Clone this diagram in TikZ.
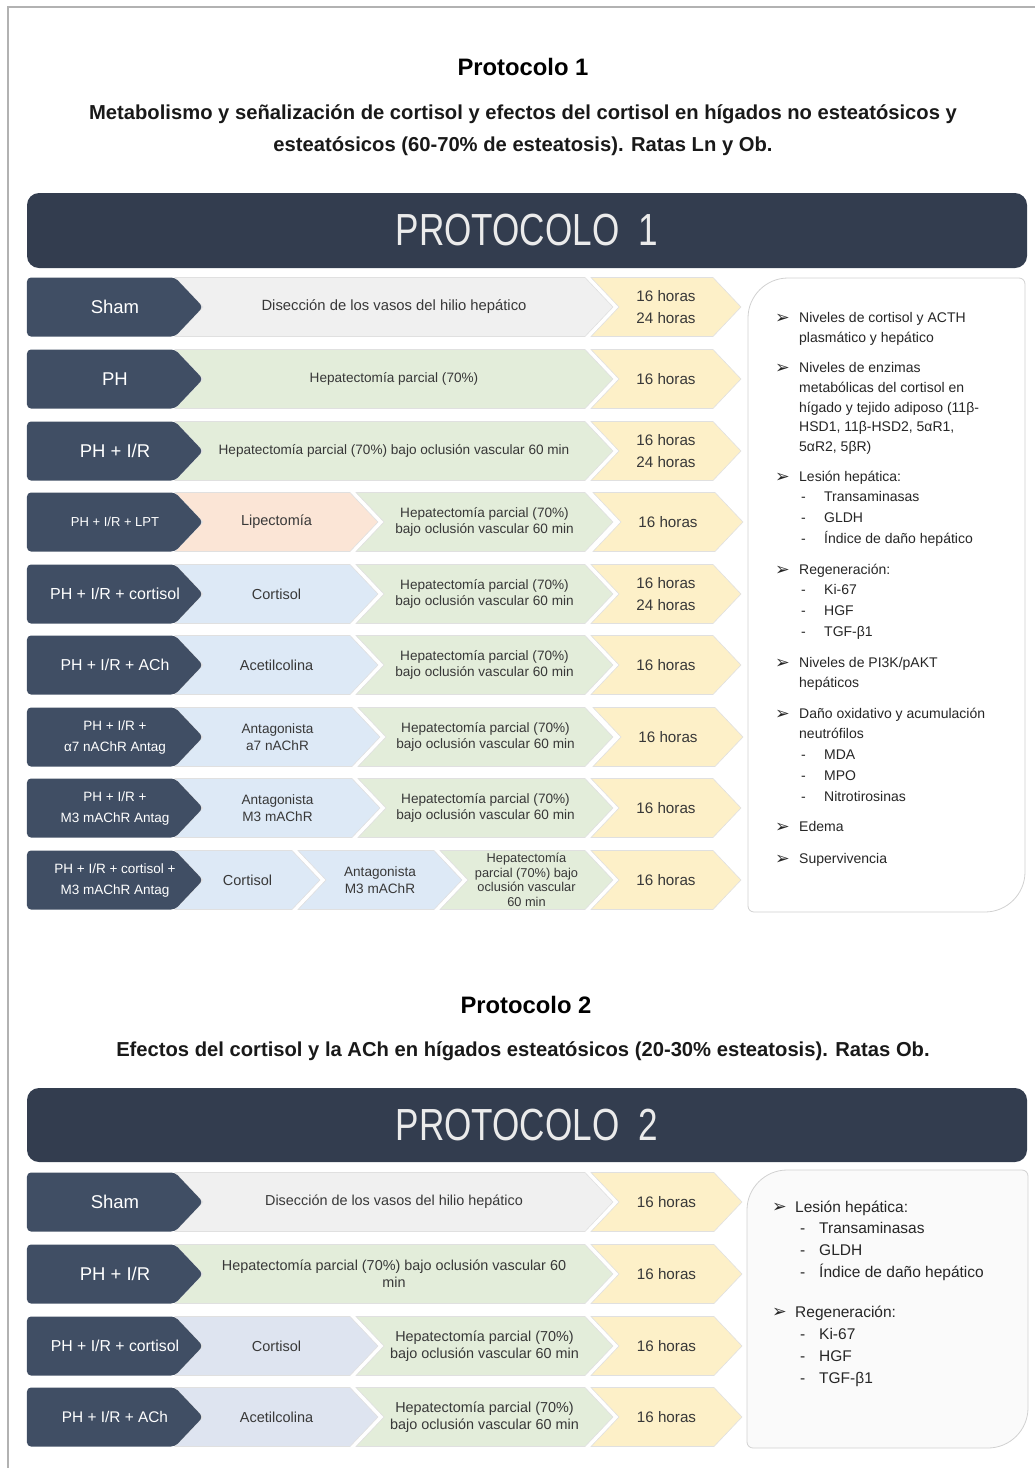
\documentclass[tikz,border=0pt]{standalone}
\usepackage{fontspec}
\setmainfont{Liberation Sans}
\newfontfamily\bannerfont{Liberation Sans}[FakeStretch=0.78]
\newfontfamily\symbfont{DejaVu Sans}
\usetikzlibrary{shapes.symbols}

\begin{document}
\begin{tikzpicture}[x=1pt,y=-1pt,
		seg/.style={shape=signal,signal to=east,signal from=west,signal pointer angle=93,minimum height=59pt,inner sep=0pt,draw=black!12,line width=0.6pt,text=black!78,align=center,font=\fontsize{13.6}{16.5}\selectfont},
		big/.style={font=\fontsize{14.5}{17}\selectfont},
		lab/.style={shape=signal,signal to=east,signal pointer angle=93,minimum height=59pt,minimum width=176pt,inner sep=0pt,fill=slate,rounded corners=4pt},
		ltx/.style={inner sep=0pt,align=center,text=white,font=\fontsize{18.5}{21}\selectfont},
		hrs/.style={seg,fill=sand,font=\fontsize{15.2}{22}\selectfont},
		banner/.style={rectangle,rounded corners=12pt,fill=navy,minimum width=1000pt,minimum height=75pt,inner sep=0pt,text=black!8,font=\bannerfont\fontsize{45}{50}\selectfont},
		head/.style={inner sep=0pt,font=\bfseries\fontsize{23.8}{28}\selectfont},
		subhead/.style={inner sep=0pt,align=center,text=black!90,font=\bfseries\fontsize{20.2}{32}\selectfont},
		arrowitem/.style={anchor=west,inner sep=0pt,text=black!85,font=\symbfont\fontsize{17.5}{18}\selectfont},
		txta/.style={anchor=north west,inner sep=0pt,align=left,text=black!85,font=\fontsize{14}{19.6}\selectfont},
		suba/.style={txta,font=\fontsize{14}{20.8}\selectfont},
		txtb/.style={anchor=north west,inner sep=0pt,align=left,text=black!85,font=\fontsize{15.5}{21.8}\selectfont}]
		\definecolor{slate}{RGB}{64,78,100}
		\definecolor{navy}{RGB}{51,61,79}
		\definecolor{pale}{RGB}{240,240,240}
		\definecolor{leaf}{RGB}{227,237,218}
		\definecolor{sand}{RGB}{253,240,200}
		\definecolor{peach}{RGB}{251,229,214}
		\definecolor{sky}{RGB}{221,233,246}
		\definecolor{mist}{RGB}{222,228,240}

		\useasboundingbox (0,0) rectangle (1035,1468);
		\draw[black!30,line width=2pt] (8,1468) -- (8,7) -- (1035,7);

		\node[head] (tit1) at (523,67) {Protocolo 1};
		\node[subhead] (sub1) at (523,130) {Metabolismo y señalización de cortisol y efectos del cortisol en hígados no esteatósicos y\\esteatósicos (60-70\% de esteatosis). Ratas Ln y Ob.};
		\node[banner] (ban1) at (527,230.5) {PROTOCOLO\ \ 1};

		\node[seg,fill=pale,minimum width=438pt,font=\fontsize{14.8}{17}\selectfont] (r1b) at (394,307) {Disección de los vasos del hilio hepático};
		\node[hrs,minimum width=150pt] (r1c) at (666,307) {16 horas\\24 horas};
		\node[lab] (r1a) at (101,307) {};
		\node[ltx] (r1t) at ([xshift=14pt]r1a.center) {Sham};

		\node[seg,fill=leaf,minimum width=438pt] (r2b) at (394,379) {Hepatectomía parcial (70\%)};
		\node[hrs,minimum width=150pt] (r2c) at (666,379) {16 horas};
		\node[lab] (r2a) at (101,379) {};
		\node[ltx] (r2t) at ([xshift=14pt]r2a.center) {PH};

		\node[seg,fill=leaf,minimum width=438pt] (r3b) at (394,451) {Hepatectomía parcial (70\%) bajo oclusión vascular 60 min};
		\node[hrs,minimum width=150pt] (r3c) at (666,451) {16 horas\\24 horas};
		\node[lab] (r3a) at (101,451) {};
		\node[ltx] (r3t) at ([xshift=14pt]r3a.center) {PH + I/R};

		\node[seg,big,fill=peach,minimum width=203pt] (r4b) at (276.5,522) {Lipectomía};
		\node[seg,fill=leaf,minimum width=257pt] (r4c) at (484.5,522) {Hepatectomía parcial (70\%)\\bajo oclusión vascular 60 min};
		\node[hrs,minimum width=150pt] (r4d) at (668,522) {16 horas};
		\node[lab] (r4a) at (101,522) {};
		\node[ltx,font=\fontsize{13}{16}\selectfont] (r4t) at ([xshift=14pt]r4a.center) {PH + I/R + LPT};

		\node[seg,big,fill=sky,minimum width=203pt] (r5b) at (276.5,594) {Cortisol};
		\node[seg,fill=leaf,minimum width=257pt] (r5c) at (484.5,594) {Hepatectomía parcial (70\%)\\bajo oclusión vascular 60 min};
		\node[hrs,minimum width=150pt] (r5d) at (666,594) {16 horas\\24 horas};
		\node[lab] (r5a) at (101,594) {};
		\node[ltx,font=\fontsize{16}{19}\selectfont] (r5t) at ([xshift=14pt]r5a.center) {PH + I/R + cortisol};

		\node[seg,big,fill=sky,minimum width=203pt] (r6b) at (276.5,665) {Acetilcolina};
		\node[seg,fill=leaf,minimum width=257pt] (r6c) at (484.5,665) {Hepatectomía parcial (70\%)\\bajo oclusión vascular 60 min};
		\node[hrs,minimum width=150pt] (r6d) at (666,665) {16 horas};
		\node[lab] (r6a) at (101,665) {};
		\node[ltx,font=\fontsize{15.8}{19}\selectfont] (r6t) at ([xshift=14pt]r6a.center) {PH + I/R + ACh};

		\node[seg,fill=sky,minimum width=205pt] (r7b) at (277.5,737) {Antagonista\\a7 nAChR};
		\node[seg,fill=leaf,minimum width=255pt] (r7c) at (485.5,737) {Hepatectomía parcial (70\%)\\bajo oclusión vascular 60 min};
		\node[hrs,minimum width=150pt] (r7d) at (668,737) {16 horas};
		\node[lab] (r7a) at (101,737) {};
		\node[ltx,font=\fontsize{13.5}{21}\selectfont] (r7t) at ([xshift=14pt]r7a.center) {PH + I/R +\\α7 nAChR Antag};

		\node[seg,fill=sky,minimum width=205pt] (r8b) at (277.5,808) {Antagonista\\M3 mAChR};
		\node[seg,fill=leaf,minimum width=255pt] (r8c) at (485.5,808) {Hepatectomía parcial (70\%)\\bajo oclusión vascular 60 min};
		\node[hrs,minimum width=150pt] (r8d) at (666,808) {16 horas};
		\node[lab] (r8a) at (101,808) {};
		\node[ltx,font=\fontsize{13.5}{21}\selectfont] (r8t) at ([xshift=14pt]r8a.center) {PH + I/R +\\M3 mAChR Antag};

		\node[seg,big,fill=sky,minimum width=145pt] (r9b) at (247.5,880) {Cortisol};
		\node[seg,fill=sky,minimum width=164pt] (r9c) at (380,880) {Antagonista\\M3 mAChR};
		\node[seg,fill=leaf,minimum width=173pt,font=\fontsize{12.8}{14.6}\selectfont] (r9d) at (526.5,880) {Hepatectomía\\parcial (70\%) bajo\\oclusión vascular\\60 min};
		\node[hrs,minimum width=150pt] (r9e) at (666,880) {16 horas};
		\node[lab] (r9a) at (101,880) {};
		\node[ltx,font=\fontsize{13.5}{21}\selectfont] (r9t) at ([xshift=14pt]r9a.center) {PH + I/R + cortisol +\\M3 mAChR Antag};

		\draw[draw=black!18,line width=0.8pt,fill=white] (748,318) .. controls (748,296) and (766,278) .. (788,278) -- (1019,278) .. controls (1022.3,278) and (1025,280.7) .. (1025,284) -- (1025,872) .. controls (1025,894) and (1007,912) .. (985,912) -- (754,912) .. controls (750.7,912) and (748,909.3) .. (748,906) -- cycle;

		\node[arrowitem] (b1) at (775,319) {➢};
		\node[txta] (i1) at (799,309) {\strut Niveles de cortisol y ACTH\\plasmático y hepático};
		\node[arrowitem] (b2) at (775,369) {➢};
		\node[txta] (i2) at (799,359) {\strut Niveles de enzimas\\metabólicas del cortisol en\\hígado y tejido adiposo (11β-\\HSD1, 11β-HSD2, 5αR1,\\5αR2, 5βR)};
		\node[arrowitem] (b3) at (775,478) {➢};
		\node[txta] (i3) at (799,468) {\strut Lesión hepática:};
		\node[suba] (d3) at (801,487) {\strut -\\-\\-};
		\node[suba] (s3) at (824,487) {\strut Transaminasas\\GLDH\\Índice de daño hepático};
		\node[arrowitem] (b4) at (775,571) {➢};
		\node[txta] (i4) at (799,561) {\strut Regeneración:};
		\node[suba] (d4) at (801,580) {\strut -\\-\\-};
		\node[suba] (s4) at (824,580) {\strut Ki-67\\HGF\\TGF-β1};
		\node[arrowitem] (b5) at (775,664) {➢};
		\node[txta] (i5) at (799,654) {\strut Niveles de PI3K/pAKT\\hepáticos};
		\node[arrowitem] (b6) at (775,715) {➢};
		\node[txta] (i6) at (799,705) {\strut Daño oxidativo y acumulación\\neutrófilos};
		\node[suba] (d6) at (801,745) {\strut -\\-\\-};
		\node[suba] (s6) at (824,745) {\strut MDA\\MPO\\Nitrotirosinas};
		\node[arrowitem] (b7) at (775,828) {➢};
		\node[txta] (i7) at (799,818) {\strut Edema};
		\node[arrowitem] (b8) at (775,860) {➢};
		\node[txta] (i8) at (799,850) {\strut Supervivencia};

		\node[head] (tit2) at (526,1005) {Protocolo 2};
		\node[subhead] (sub2) at (523,1051) {Efectos del cortisol y la ACh en hígados esteatósicos (20-30\% esteatosis). Ratas Ob.};
		\node[banner,minimum height=74pt] (ban2) at (527,1125) {PROTOCOLO\ \ 2};

		\node[seg,fill=pale,minimum width=438pt,font=\fontsize{14.4}{17}\selectfont] (q1b) at (394,1202) {Disección de los vasos del hilio hepático};
		\node[hrs,minimum width=151pt] (q1c) at (666.5,1202) {16 horas};
		\node[lab] (q1a) at (101,1202) {};
		\node[ltx] (q1t) at ([xshift=14pt]q1a.center) {Sham};

		\node[seg,fill=leaf,minimum width=438pt,font=\fontsize{14.4}{17}\selectfont] (q2b) at (394,1274) {Hepatectomía parcial (70\%) bajo oclusión vascular 60\\min};
		\node[hrs,minimum width=151pt] (q2c) at (666.5,1274) {16 horas};
		\node[lab] (q2a) at (101,1274) {};
		\node[ltx] (q2t) at ([xshift=14pt]q2a.center) {PH + I/R};

		\node[seg,big,fill=mist,minimum width=203pt] (q3b) at (276.5,1346) {Cortisol};
		\node[seg,fill=leaf,minimum width=257pt,font=\fontsize{14.4}{17}\selectfont] (q3c) at (484.5,1346) {Hepatectomía parcial (70\%)\\bajo oclusión vascular 60 min};
		\node[hrs,minimum width=151pt] (q3d) at (666.5,1346) {16 horas};
		\node[lab] (q3a) at (101,1346) {};
		\node[ltx,font=\fontsize{15.8}{19}\selectfont] (q3t) at ([xshift=14pt]q3a.center) {PH + I/R + cortisol};

		\node[seg,big,fill=mist,minimum width=203pt] (q4b) at (276.5,1417) {Acetilcolina};
		\node[seg,fill=leaf,minimum width=257pt,font=\fontsize{14.4}{17}\selectfont] (q4c) at (484.5,1417) {Hepatectomía parcial (70\%)\\bajo oclusión vascular 60 min};
		\node[hrs,minimum width=151pt] (q4d) at (666.5,1417) {16 horas};
		\node[lab] (q4a) at (101,1417) {};
		\node[ltx,font=\fontsize{15.4}{19}\selectfont] (q4t) at ([xshift=14pt]q4a.center) {PH + I/R + ACh};

		\draw[draw=black!18,line width=0.8pt,fill=black!2] (747,1210) .. controls (747,1188) and (765,1170) .. (787,1170) -- (1022,1170) .. controls (1025.3,1170) and (1028,1172.7) .. (1028,1176) -- (1028,1408) .. controls (1028,1430) and (1010,1448) .. (988,1448) -- (753,1448) .. controls (749.7,1448) and (747,1445.3) .. (747,1442) -- cycle;

		\node[arrowitem] (c1) at (772,1208) {➢};
		\node[txtb] (j1) at (795,1197) {\strut Lesión hepática:};
		\node[txtb] (e1) at (800,1218) {\strut -\\-\\-};
		\node[txtb] (k1) at (819,1218) {\strut Transaminasas\\GLDH\\Índice de daño hepático};
		\node[arrowitem] (c2) at (772,1313) {➢};
		\node[txtb] (j2) at (795,1302) {\strut Regeneración:};
		\node[txtb] (e2) at (800,1324) {\strut -\\-\\-};
		\node[txtb] (k2) at (819,1324) {\strut Ki-67\\HGF\\TGF-β1};

\end{tikzpicture}
\end{document}
